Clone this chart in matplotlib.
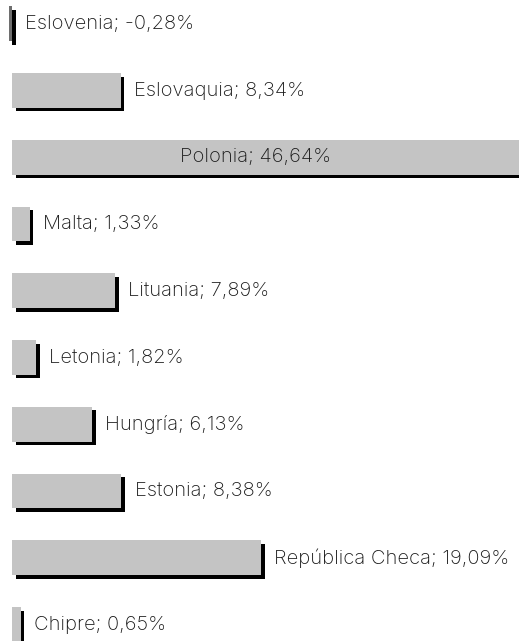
import matplotlib
matplotlib.use("Agg")
import matplotlib.pyplot as plt
from matplotlib.transforms import offset_copy

countries = ["Eslovenia", "Eslovaquia", "Polonia", "Malta", "Lituania",
             "Letonia", "Hungría", "Estonia", "República Checa", "Chipre"]
values = [-0.28, 8.34, 46.64, 1.33, 7.89, 1.82, 6.13, 8.38, 19.09, 0.65]

plt.rcParams["font.family"] = ["Inter", "DejaVu Sans"]

W, H, DPI = 519, 641, 100
fig = plt.figure(figsize=(W / DPI, H / DPI), dpi=DPI)
ax = fig.add_axes([0, 0, 1, 1])

px_per_unit = 13.03
x0_px = 12.3
ax.set_xlim(-x0_px / px_per_unit, (W - x0_px) / px_per_unit)
row_px = 66.75
first_px = 23.75
ax.set_ylim((H - first_px) / row_px, -first_px / row_px)

ypos = list(range(len(countries)))
bar_h = 0.52

# drop shadow: same bars shifted right and down
shadow = offset_copy(ax.transData, fig=fig, x=3.5, y=-3.5, units="dots")
ax.barh(ypos, values, height=bar_h, color="black", transform=shadow,
        zorder=1, linewidth=0)
fills = ["#6e6e6e" if v < 0 else "#c4c4c4" for v in values]
ax.barh(ypos, values, height=bar_h, color=fills, zorder=2, linewidth=0)

xmax = ax.get_xlim()[1]
txt = dict(fontsize=14.5, color="#1a1a1a", fontweight="light", zorder=3)
for y, name, v in zip(ypos, countries, values):
    label = f"{name}; {v:.2f}%".replace(".", ",")
    if v > xmax:
        ax.text(18.7, y, label, ha="center", va="center", **txt)
    else:
        ax.annotate(label, xy=(max(v, 0), y), xytext=(9.5, 0),
                    textcoords="offset points", ha="left", va="center", **txt)

ax.axis("off")
fig.savefig("out.png", dpi=DPI)
